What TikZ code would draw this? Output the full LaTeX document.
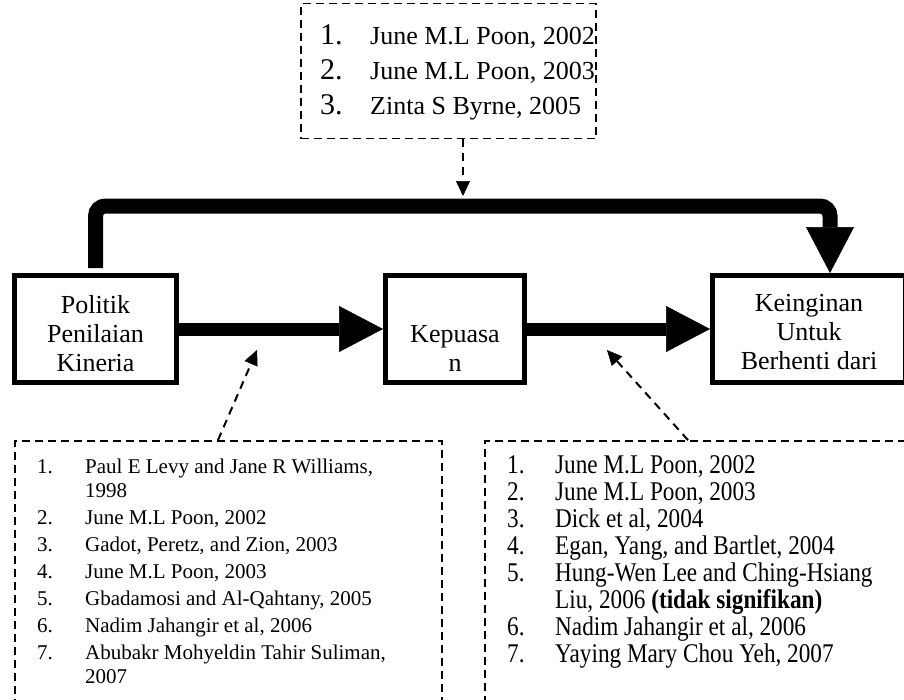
\documentclass[tikz,border=0pt]{standalone}
\usepackage{fontspec}
\setmainfont{Liberation Serif}
\newfontfamily\narrowserif[FakeStretch=0.86]{Liberation Serif}
\usepackage{tikz}
\usetikzlibrary{arrows.meta}

\begin{document}
\begin{tikzpicture}[x=1pt, y=-1pt,
  varbox/.style={draw, line width=5pt, minimum height=107pt, inner sep=0pt},
  varlabel/.style={anchor=north, align=center, inner sep=0pt, font=\fontsize{26}{29}\selectfont},
  litbox/.style={draw, dash pattern=on 8pt off 5pt, line width=1.8pt, inner sep=0pt},
  litlist/.style={anchor=base west, inner sep=0pt},
  flow/.style={line width=13pt, -{Triangle[length=44pt, width=46pt, line width=0.5pt]}},
  cite/.style={dash pattern=on 8pt off 6pt, line width=2pt, -{Triangle[length=15pt, width=14pt, line width=0.5pt]}}]

  \useasboundingbox (0,0) rectangle (904,699);

  % Variables
  \node[varbox, minimum width=162pt] (pol) at (95.5,329) {};
  \node[varbox, minimum width=139pt] (kep) at (455,329) {};
  \node[varbox, minimum width=193pt] (kei) at (809,329) {};
  \node[varlabel] (polT) at (95.5,295) {Politik\\Penilaian\\Kineria};
  \node[varlabel] (kepT) at (455,325) {Kepuasa\\n};
  \node[varlabel] (keiT) at (809,294) {Keinginan\\Untuk\\Berhenti dari};

  \draw[flow] (pol.east) -- (kep.west);
  \draw[flow] (kep.east) -- (kei.west);

  % Direct path
  \coordinate (bend) at (830,206);
  \draw[line width=15pt, rounded corners=10pt, -{Triangle[length=46pt, width=48pt, line width=0.5pt]}]
    ([yshift=5pt]pol.north) |- (bend) -- (bend |- kei.north);

  % Studies
  \node[litbox, minimum width=295pt, minimum height=135pt] (litTop) at (448.5,71) {};
  \node[litbox, minimum width=427pt, minimum height=318pt] (litLeft) at (228.5,600) {};
  \node[litbox, minimum width=474pt, minimum height=318pt] (litRight) at (722,600) {};

  \node[litlist, font=\fontsize{26}{35}\selectfont] (topList) at (320,44) {%
    \begin{tabular}[t]{@{}p{50pt}@{}l@{}}
      {\fontsize{30}{30}\selectfont 1.} & June M.L Poon, 2002\\
      {\fontsize{30}{30}\selectfont 2.} & June M.L Poon, 2003\\
      {\fontsize{30}{30}\selectfont 3.} & Zinta S Byrne, 2005
    \end{tabular}};

  \node[litlist, font=\fontsize{21}{24}\selectfont] (leftList) at (37,473) {%
    \begin{tabular}[t]{@{}p{48pt}@{}l@{}}
      1. & Paul E Levy and Jane R Williams,\\
         & 1998\\[3pt]
      2. & June M.L Poon, 2002\\[3pt]
      3. & Gadot, Peretz, and Zion, 2003\\[3pt]
      4. & June M.L Poon, 2003\\[3pt]
      5. & Gbadamosi and Al-Qahtany, 2005\\[3pt]
      6. & Nadim Jahangir et al, 2006\\[3pt]
      7. & Abubakr Mohyeldin Tahir Suliman,\\
         & 2007
    \end{tabular}};

  \node[litlist, font=\narrowserif\fontsize{27}{27}\selectfont] (rightList) at (507,473) {%
    \begin{tabular}[t]{@{}p{48pt}@{}l@{}}
      1. & June M.L Poon, 2002\\
      2. & June M.L Poon, 2003\\
      3. & Dick et al, 2004\\
      4. & Egan, Yang, and Bartlet, 2004\\
      5. & Hung-Wen Lee and Ching-Hsiang\\
         & Liu, 2006 \textbf{(tidak signifikan)}\\
      6. & Nadim Jahangir et al, 2006\\
      7. & Yaying Mary Chou Yeh, 2007
    \end{tabular}};

  % Links to the paths
  \coordinate (hitTop) at (463,196);
  \coordinate (hitPolKep) at (257,350);
  \coordinate (hitKepKei) at (607,350);
  \draw[cite] ([xshift=14.5pt]litTop.south) -- (hitTop);
  \draw[cite] ([xshift=-10.5pt]litLeft.north) -- (hitPolKep);
  \draw[cite] ([xshift=-34pt]litRight.north) -- (hitKepKei);
\end{tikzpicture}
\end{document}
